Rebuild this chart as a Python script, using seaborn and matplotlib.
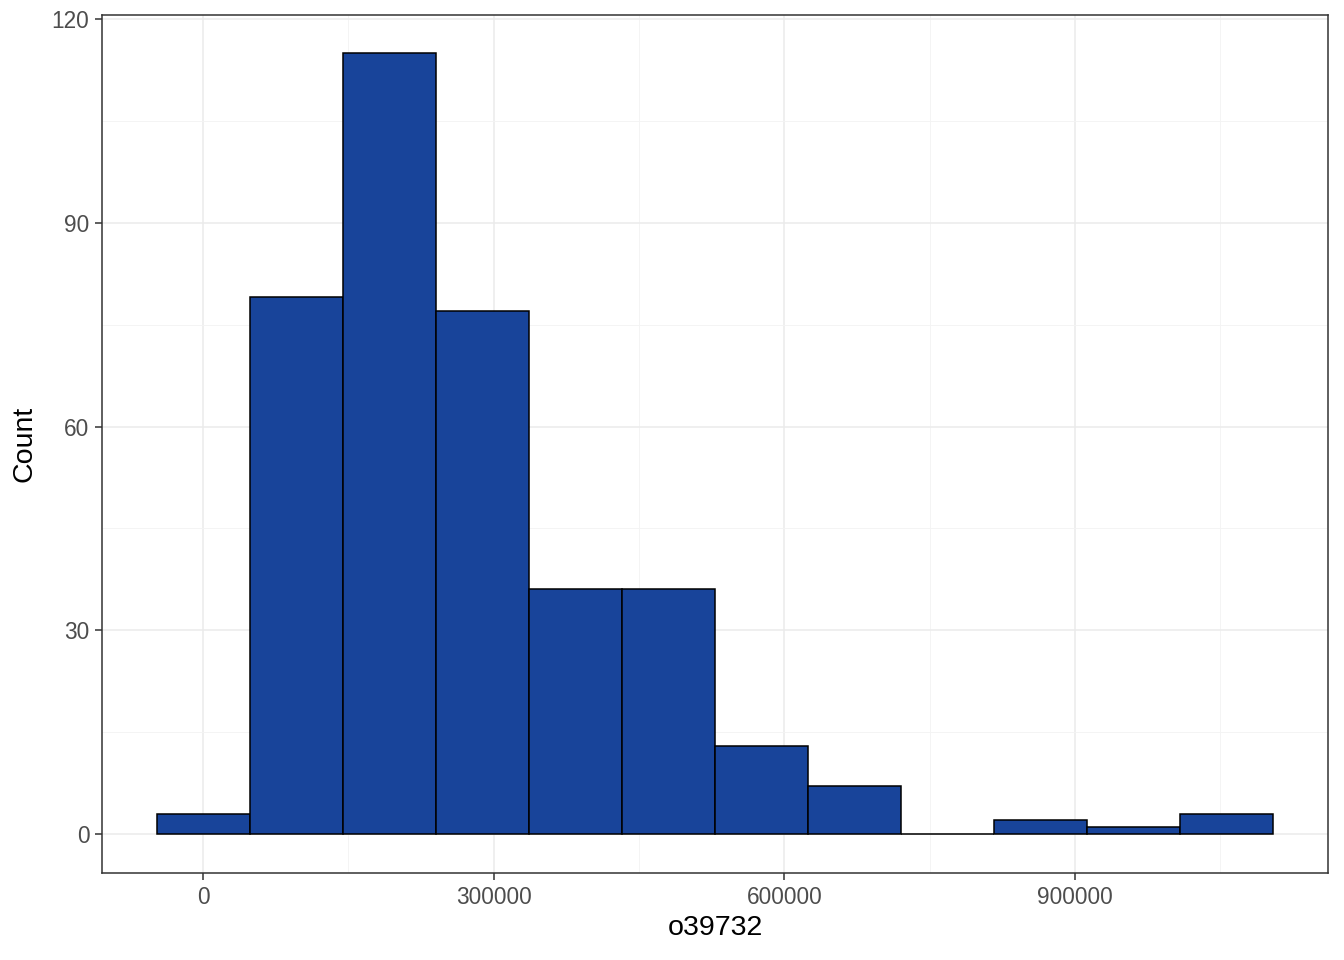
import numpy as np
import pandas as pd
import matplotlib
matplotlib.use("Agg")
import matplotlib.pyplot as plt
import seaborn as sns
from matplotlib.ticker import MultipleLocator

# --- DATA ---
BIN_WIDTH = 96000
bin_centers = [0, 96000, 192000, 288000, 384000, 480000, 576000, 672000,
               768000, 864000, 960000, 1056000]
counts = [3, 79, 115, 77, 36, 36, 13, 7, 0, 2, 1, 3]
x_ticks = [0, 300000, 600000, 900000]
x_tick_labels = ["0", "300000", "600000", "900000"]
y_ticks = [0, 30, 60, 90, 120]

sns.set_theme(style="white")
plt.rcParams["font.family"] = ["Liberation Sans", "DejaVu Sans"]

df = pd.DataFrame({"o39732": bin_centers, "n": counts})
lo = bin_centers[0] - BIN_WIDTH / 2
hi = bin_centers[-1] + BIN_WIDTH / 2

fig = plt.figure(figsize=(13.44, 9.6), dpi=100)
ax = fig.add_axes([102 / 1344, 1 - 873 / 960, (1328 - 102) / 1344, (873 - 15) / 960])

sns.histplot(data=df, x="o39732", weights="n", binwidth=BIN_WIDTH, binrange=(lo, hi),
             ax=ax, color="#18449A", edgecolor="black", linewidth=1.1, alpha=1, zorder=3)

ax.set_xlim(-104300, 1161000)
ax.set_ylim(-5.75, 120.6)
ax.set_xticks(x_ticks)
ax.set_xticklabels(x_tick_labels)
ax.set_yticks(y_ticks)
ax.xaxis.set_minor_locator(MultipleLocator(150000))
ax.yaxis.set_minor_locator(MultipleLocator(15))

ax.grid(which="major", color="#EBEBEB", linewidth=1.1, zorder=0)
ax.grid(which="minor", color="#F3F3F3", linewidth=0.6, zorder=0)
ax.set_axisbelow(True)

for s in ax.spines.values():
    s.set_color("#333333")
    s.set_linewidth(1.1)

ax.tick_params(axis="both", which="major", length=5, width=1.1, color="#333333",
               labelsize=16.3, labelcolor="#4D4D4D", pad=4, direction="out",
               bottom=True, left=True)
ax.tick_params(which="minor", length=0)

ax.set_xlabel("o39732", fontsize=20.5, color="black", labelpad=5)
ax.set_ylabel("Count", fontsize=20.5, color="black", labelpad=10)

fig.savefig("out.png", dpi=100)
plt.close(fig)
